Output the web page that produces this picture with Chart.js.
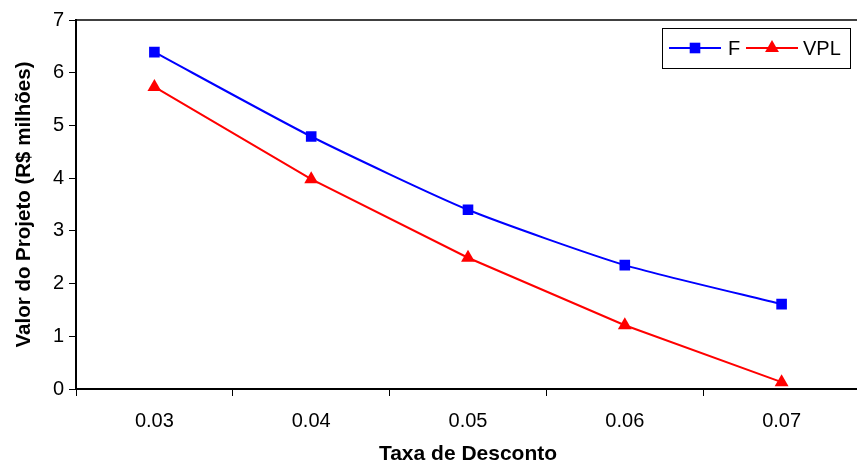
<!DOCTYPE html>
<html>
<head>
<meta charset="utf-8">
<script src="https://cdn.jsdelivr.net/npm/chart.js@4/dist/chart.umd.min.js"></script>
<style>
    body { margin: 0; overflow: hidden; background: #fff; }
    #wrap { position: absolute; left: 0; top: 0; width: 868px; height: 469px; }
</style>
</head>
<body>
<div id="wrap"><canvas id="grafico"></canvas></div>
<script>
// dados
const taxas = ['0.03', '0.04', '0.05', '0.06', '0.07'];
const valoresF = [6.39, 4.79, 3.40, 2.35, 1.61];
const valoresVPL = [5.73, 3.98, 2.49, 1.21, 0.13];
const ticksY = [0, 1, 2, 3, 4, 5, 6, 7];

const fonte = '"Liberation Sans", Arial, sans-serif';
Chart.defaults.color = '#000';
Chart.defaults.font.family = fonte;

// borda de cima da área do gráfico + legenda estilo Excel
const extras = {
    id: 'extras',
    afterDraw(chart) {
        const ctx = chart.ctx;
        const area = chart.chartArea;
        ctx.save();
        ctx.strokeStyle = '#000';
        ctx.lineWidth = 1.5;
        ctx.beginPath();
        ctx.moveTo(area.left, area.top);
        ctx.lineTo(area.right, area.top);
        ctx.stroke();

        // caixa da legenda
        ctx.fillStyle = '#fff';
        ctx.fillRect(662.5, 28.5, 188, 40);
        ctx.lineWidth = 1;
        ctx.strokeRect(662.5, 28.5, 188, 40);

        const y = 48;
        const itens = [
            { x1: 669, x2: 721, cor: '#0000ff', estilo: 'rect', raio: 7.5, texto: 'F', tx: 728 },
            { x1: 746, x2: 798, cor: '#ff0000', estilo: 'triangle', raio: 8, texto: 'VPL', tx: 803 }
        ];
        itens.forEach(it => {
            ctx.strokeStyle = it.cor;
            ctx.lineWidth = 2;
            ctx.beginPath();
            ctx.moveTo(it.x1, y);
            ctx.lineTo(it.x2, y);
            ctx.stroke();
            ctx.fillStyle = it.cor;
            Chart.helpers.drawPoint(ctx, { pointStyle: it.estilo, radius: it.raio, borderWidth: 0 }, (it.x1 + it.x2) / 2, y);
            ctx.fillStyle = '#000';
            ctx.font = '20px ' + fonte;
            ctx.textBaseline = 'middle';
            ctx.textAlign = 'left';
            ctx.fillText(it.texto, it.tx, y + 1);
        });
        ctx.restore();
    }
};

const ctx = document.getElementById('grafico').getContext('2d');
new Chart(ctx, {
    type: 'line',
    data: {
        labels: taxas,
        datasets: [
            {
                label: 'F',
                data: valoresF,
                borderColor: '#0000ff',
                backgroundColor: '#0000ff',
                borderWidth: 2,
                pointStyle: 'rect',
                pointRadius: 7.5,
                pointBorderWidth: 0,
                tension: 0.2
            },
            {
                label: 'VPL',
                data: valoresVPL,
                borderColor: '#ff0000',
                backgroundColor: '#ff0000',
                borderWidth: 2,
                pointStyle: 'triangle',
                pointRadius: 8,
                pointBorderWidth: 0,
                tension: 0
            }
        ]
    },
    options: {
        responsive: true,
        maintainAspectRatio: false,
        animation: false,
        layout: { padding: { left: 0, right: 2, top: 20, bottom: 0 } },
        plugins: {
            legend: { display: false },
            tooltip: { enabled: false }
        },
        scales: {
            x: {
                offset: true,
                grid: { display: true, offset: true, drawOnChartArea: false, color: '#000', tickLength: 7, lineWidth: 1 },
                border: { display: true, color: '#000', width: 2 },
                ticks: { font: { size: 20 }, padding: 13, maxRotation: 0 },
                title: { display: true, text: 'Taxa de Desconto', font: { size: 21, weight: 'bold' }, padding: { top: 0, bottom: 2 } },
                afterFit(scale) { scale.height = 80; }
            },
            y: {
                min: 0,
                max: 7,
                afterBuildTicks(scale) { scale.ticks = ticksY.map(v => ({ value: v })); },
                grid: { display: true, drawOnChartArea: false, color: '#000', tickLength: 7, lineWidth: 1 },
                border: { display: true, color: '#000', width: 2 },
                ticks: { font: { size: 20 }, padding: 5 },
                title: { display: true, text: 'Valor do Projeto (R$ milhões)', font: { size: 20.5, weight: 'bold' }, padding: { top: 12, bottom: 0 } },
                afterFit(scale) { scale.width = 76; }
            }
        }
    },
    plugins: [extras]
});
</script>
</body>
</html>
